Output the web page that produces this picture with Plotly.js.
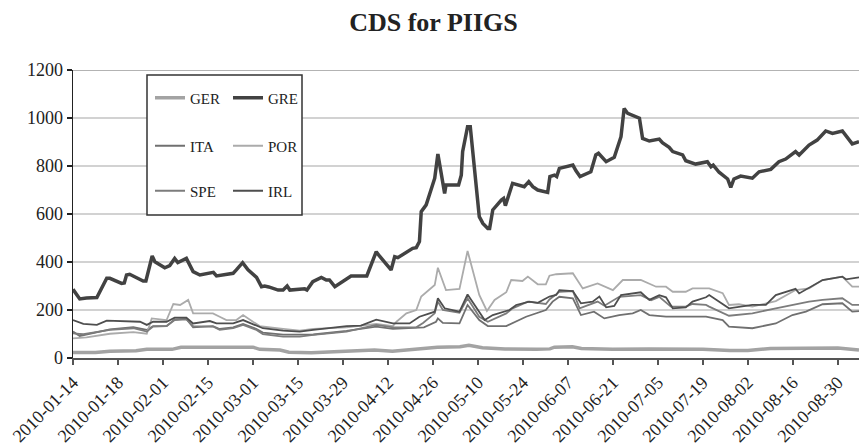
<!DOCTYPE html>
<html>
<head>
<meta charset="utf-8">
<script src="https://cdn.plot.ly/plotly-3.0.1.min.js"></script>
<style>html,body{margin:0;padding:0;background:#fff;}#chart{width:860px;height:446px;}</style>
</head>
<body>
<div id="chart"></div>
<script>
// Category tick labels (every 10 trading days)
const tickLabels = ['2010-01-14','2010-01-18','2010-02-01','2010-02-15','2010-03-01','2010-03-15','2010-03-29','2010-04-12','2010-04-26','2010-05-10','2010-05-24','2010-06-07','2010-06-21','2010-07-05','2010-07-19','2010-08-02','2010-08-16','2010-08-30'];
const seriesNames = ['GER','GRE','ITA','POR','SPE','IRL'];

// trading-day index / CDS value (bp)
const gerDay = [0,5,8.2,14,16.4,22,24,40,41.5,46,48,53,58,63,67,71,75,78,81,86,88,91,96,103,106,107,111,113,120,128,140,146,150,155,165,170,174.7];
const gerVal = [23,23,28,30,36,36,45,45,36,33,24,22,26,30,33,28,35,40,45,47,53,43,38,36,38,45,47,40,36,38,36,31,31,40,42,42,33];

const greDay = [0,1.5,3,5.3,7.5,8.2,10.8,11.4,11.9,12.6,15.6,16.2,17.6,18.2,20.4,21.5,22.6,23.3,25.2,26.7,28.2,30.8,31.2,31.9,35.6,36.3,37.7,38.9,40.8,41.9,42.6,43.5,45.6,46.7,47.6,48.2,51.5,52,53.3,55.2,56.3,57,58.2,61.8,65.3,67.4,68.1,70.7,71.5,72.2,73.7,75.5,76.3,77,77.4,78.5,80.4,81.1,82.6,82.9,85.7,86.3,86.6,87.7,88.3,90.3,91.1,92.2,92.6,93.3,95.2,95.7,96.1,97.7,100.3,101.3,102.2,103.3,105.5,106,107,107.5,108.1,111.1,111.8,112.7,115.1,116.2,116.8,118.5,120.3,121.8,122.5,123.3,125.9,126.6,128.1,130.3,131,132.5,133.3,135.5,136.2,138.4,141,141.8,142.3,143.6,145.5,146.2,146.9,148.4,151,152.5,155.1,156.9,158.4,160.6,161.4,163.6,165.4,167.3,168.8,171,173.2,174.7];
const greVal = [286,246,250,252,332,332,311,313,346,349,321,321,425,401,376,385,415,398,415,360,346,353,357,342,353,367,397,367,336,297,300,296,283,283,300,283,288,283,318,336,325,325,297,342,342,443,425,367,422,418,436,457,460,485,610,638,749,850,686,721,721,762,860,964,964,589,561,540,540,617,658,665,635,728,714,735,714,700,690,756,762,756,790,804,780,756,776,846,853,818,836,922,1040,1019,999,915,904,912,897,878,860,846,822,808,818,797,804,774,746,711,746,758,749,776,786,818,829,860,846,887,908,946,936,946,892,901];

const itaDay = [0,1.5,8.2,13.4,16.4,17.8,20.8,22.6,25.2,26.7,31.1,32.6,35.6,37.8,40.8,42.2,46.7,50.4,53.4,60.8,67.4,71.1,76.3,78,80.7,81.1,82.2,85.9,87.7,90.3,92.2,96.3,100.7,105.1,106.6,108.1,111.1,112.9,115.8,118.1,121.4,124.4,126.2,128.1,131.8,140.7,144.4,145.8,151,156.2,159.9,162.9,166.6,171,173.2,174.7];
const itaVal = [110,92,119,128,117,133,133,161,163,128,133,121,128,142,121,106,97,96,98,113,131,121,124,128,151,165,146,144,221,158,133,133,172,200,235,255,249,179,193,165,179,186,200,179,172,172,158,131,124,144,179,193,224,228,193,195];

const porDay = [0,3,8.2,13.4,16.4,17.5,20.8,22.3,23.8,25.6,26.7,31.1,32.6,34.1,36.3,37.8,40,41.5,46.7,50.4,53.4,60.8,67.4,71.1,71.9,74.1,76.3,77.4,80.4,81.1,82.9,85.9,87.7,90.3,92,93.7,96.3,97.4,99.9,101.1,103.3,105.1,105.9,107.4,111.1,113.3,116.6,120,122.2,126.2,129.6,131.8,133.3,136.2,137.7,141.4,144.4,145.8,148,151,156.2,160.6,163.6,166.6,171,173.2,174.7];
const porVal = [82,86,101,108,101,165,158,225,221,242,186,186,172,158,158,179,151,133,121,114,121,128,142,133,151,186,200,256,304,376,283,288,446,263,196,242,274,325,321,339,307,307,343,349,353,290,311,283,325,325,297,297,276,276,290,290,270,221,224,214,237,283,290,325,339,297,297];

const speDay = [0,2.3,8.2,13.4,16.4,17.8,20.8,22.6,25.2,26.7,31.1,32.6,35.6,37.8,40.8,42.2,46.7,50.4,53.4,60.8,67.4,71.1,76.3,77.8,80.4,81.1,82.2,85.9,87.7,90.3,92.2,94,96.3,97.7,101.1,105.1,105.9,108.1,111.1,112.6,116.6,118.1,121.4,126.2,128.5,130.3,132.9,136.2,137.7,140.7,141.4,145.8,151,156.2,160,163.6,166.6,171,173.2,174.7];
const speVal = [103,99,117,124,110,131,133,158,161,133,131,117,124,138,117,99,89,89,96,110,138,128,128,146,186,235,200,189,249,172,151,165,186,207,235,225,244,276,279,207,235,218,255,262,241,255,214,214,225,221,214,176,186,207,221,235,242,249,221,221];

const irlDay = [0,2.3,5.3,7.5,14.9,16.4,17.8,20.8,22.6,25.2,26.7,30.4,31.9,35.6,37.8,40.8,42.2,46.7,50.4,53.4,60.8,64,67.4,71.1,74.8,77,80.4,81.1,82.6,85.9,87.7,91.5,93.3,97,98.5,101.4,103.3,105.9,107.4,108.1,111.1,112.9,115.5,117,118.5,120.3,121.8,126.2,128.1,130.3,131.8,133.3,136.2,137.7,140.7,141.4,145.8,151,154,156.2,160.6,161.4,163.6,166.6,171,171.8,174.7];
const irlVal = [158,142,138,156,151,138,151,151,168,168,144,154,144,144,158,133,124,114,110,117,133,135,160,144,144,172,193,249,207,193,265,158,179,200,221,235,230,256,263,283,279,228,235,256,211,217,262,274,242,262,253,207,211,235,253,262,207,221,221,262,288,269,293,325,339,328,336];

const seriesDays = [gerDay, greDay, itaDay, porDay, speDay, irlDay];
const seriesVals = [gerVal, greVal, itaVal, porVal, speVal, irlVal];
const colors = ['#a3a3a3','#424242','#707070','#ababab','#7c7c7c','#4e4e4e'];
const widths = [3.5,3.5,1.8,1.8,1.8,1.8];
const legendIds = ['legend','legend2','legend3','legend4','legend5','legend6'];

const SERIF = 'Liberation Serif, Times New Roman, serif';

const traces = seriesNames.map((n,i)=>({
  type:'scatter', mode:'lines', name:n,
  x: seriesDays[i], y: seriesVals[i],
  line:{color:colors[i], width:widths[i]},
  legend: legendIds[i],
  hoverinfo:'skip'
}));

const plotW = 786, plotH = 288, ml = 73, mt = 70;
function px2x(p){ return (p - ml)/plotW; }
function py2y(p){ return (mt + plotH - p)/plotH; }

const colX = [px2x(150), px2x(228)];
const rowY = [py2y(98), py2y(146), py2y(191)];
const legendBase = {orientation:'v', bgcolor:'rgba(0,0,0,0)', borderwidth:0,
  font:{family:SERIF, size:15, color:'#222'}, xanchor:'left', yanchor:'middle', itemwidth:30, tracegroupgap:0};

const layout = {
  width:860, height:446,
  margin:{l:ml, r:1, t:mt, b:88},
  paper_bgcolor:'#fff', plot_bgcolor:'#fff',
  font:{family:SERIF, size:18, color:'#222'},
  title:{text:'<b>CDS for PIIGS</b>', font:{family:SERIF, size:26, color:'#222'},
    x:0.504, xref:'container', xanchor:'center', y:1-22/446, yref:'container', yanchor:'middle'},
  showlegend:true,
  xaxis:{range:[0,174.7], tickmode:'array', tickvals: tickLabels.map((_,i)=>i*10), ticktext: tickLabels,
    tickangle:-45, ticks:'outside', ticklen:5, tickcolor:'#555', tickwidth:1.5,
    showline:true, linecolor:'#555', linewidth:2, showgrid:false, zeroline:false,
    tickfont:{family:SERIF, size:18, color:'#222'}, fixedrange:true},
  yaxis:{range:[0,1200], dtick:200, tick0:0, ticks:'outside', ticklen:5, tickcolor:'#222', tickwidth:1.5,
    showline:true, linecolor:'#222', linewidth:1.5, showgrid:true, gridcolor:'#d2d2d2', gridwidth:1.5,
    zeroline:false, tickfont:{family:SERIF, size:18, color:'#222'}, fixedrange:true},
  shapes:[
    {type:'line', xref:'paper', yref:'y', x0:0, x1:1, y0:1200, y1:1200, line:{color:'#9a9a9a', width:1.5}, layer:'below'},
    {type:'rect', xref:'paper', yref:'paper', x0:px2x(147), x1:px2x(302), y0:py2y(215), y1:py2y(75),
      line:{color:'#333', width:1.5}, fillcolor:'#fff', layer:'above'}
  ]
};
seriesNames.forEach((n,i)=>{
  layout[legendIds[i]] = Object.assign({}, legendBase, {x: colX[i%2], y: rowY[Math.floor(i/2)]});
});

Plotly.newPlot('chart', traces, layout, {staticPlot:true, displayModeBar:false});
</script>
</body>
</html>
